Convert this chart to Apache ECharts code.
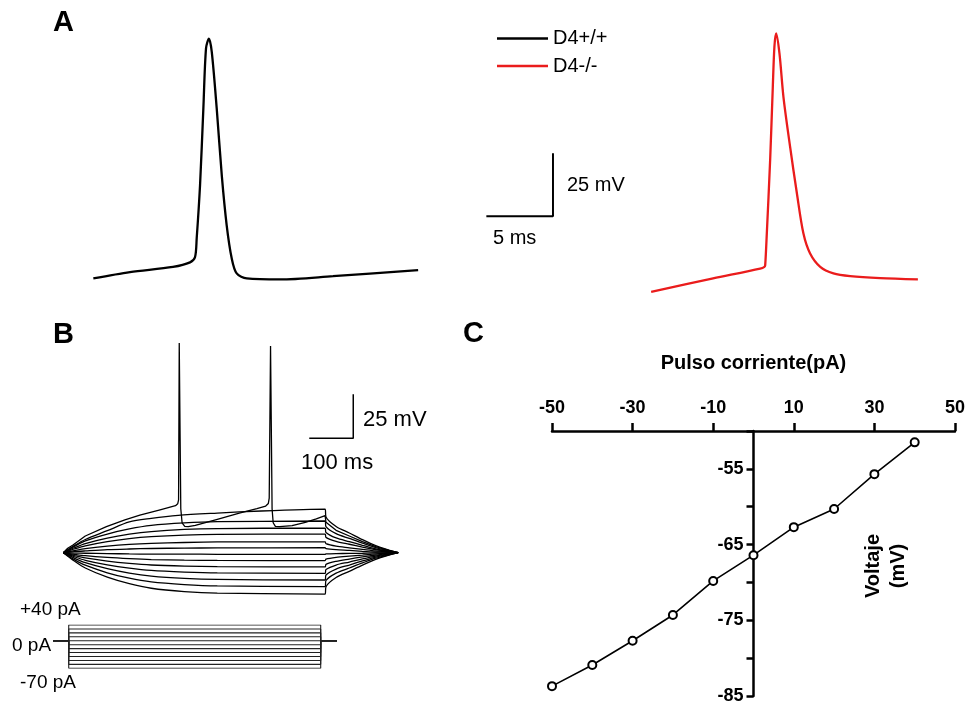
<!DOCTYPE html>
<html><head><meta charset="utf-8">
<script src="https://cdn.jsdelivr.net/npm/echarts@6/dist/echarts.min.js"></script>
<style>html,body{margin:0;padding:0;background:#fff}#c{width:968px;height:707px}</style>
</head><body><div id="c"></div>
<script>
// ---------- Panel A: single action potentials (time ms, voltage mV) ----------
const apWT_t = [1.0,3.75,6.98,8.26,8.63,8.76,9.01,9.26,9.46,9.68,9.89,10.26,10.64,11.01,11.39,11.76,12.52,15.02,18.99,25.38];
const apWT_v = [-70.1,-67.6,-65.5,-63.7,-61.7,-54.1,-33.1,-2.5,21.3,25.1,19.8,-2.5,-29.1,-49.0,-62.2,-68.1,-70.1,-70.5,-69.2,-66.8];
const apKO_t = [42.87,47.52,51.05,51.37,51.43,51.55,51.80,52.0,52.12,52.25,52.5,52.80,53.30,53.81,54.30,54.80,55.56,56.55,57.81,60.06,62.89];
const apKO_v = [-75.4,-70.1,-66.2,-65.5,-64.8,-52.3,-23.2,5.9,21.8,27.1,19.2,1.9,-17.9,-36.4,-52.3,-60.2,-65.5,-68.1,-69.2,-70.0,-70.5];
const seriesNames = ['D4+/+','D4-/-'];
const scaleA_t = [30.5,35.5,35.5];      // 5 ms
const scaleA_v = [-45.4,-45.4,-20.4];   // 25 mV

// ---------- Panel B: current-clamp family (time ms, voltage mV) ----------
const spikeT = [0,10,22,50,98,140,174,220,255,260,262,263.5,265.5,267,270,276,284,300,350,400,440,460,466,468,471,473,474.5,477,482,492,520,550,575,595,597,620,650,680,710,740,761];
const spikeV = [-65,-62.5,-60.6,-55.5,-50.2,-46.3,-43.6,-40.6,-38.3,-37.2,-35,54.2,0,-40,-48,-50,-50.2,-49.5,-46,-42.5,-40,-38.5,-37,-34,52.5,0,-40,-48,-50,-50.2,-49.6,-47.8,-45.8,-43.9,-47.7,-52.3,-55.5,-58.7,-61.6,-63.7,-65];
const trace2T = [0,25,50,100,150,200,261,350,450,595,597,620,650,680,710,740,761];
const trace2V = [-65,-61,-57.5,-52.5,-47.5,-45.5,-43.8,-42.5,-41.3,-40.2,-44.7,-50.1,-53.8,-57.6,-61.0,-63.5,-65];
const familyT = [0,25,50,100,150,200,275,350,595,597,620,650,680,710,740,761];
const familyV = [
  [-65,-61.4,-58.3,-54.4,-51.5,-49.5,-48.1,-47.4,-47.0,-50.2,-54.2,-56.9,-59.6,-62.1,-63.9,-65],
  [-65,-62.2,-59.8,-56.7,-54.5,-53.0,-51.8,-51.3,-51.0,-53.5,-56.6,-58.7,-60.8,-62.8,-64.2,-65],
  [-65,-62.9,-61.1,-58.7,-57.0,-55.9,-55.0,-54.6,-54.4,-56.3,-58.6,-60.2,-61.8,-63.3,-64.4,-65],
  [-65,-63.8,-62.7,-61.3,-60.3,-59.7,-59.2,-58.9,-58.8,-59.9,-61.3,-62.2,-63.1,-64.0,-64.6,-65],
  [-65,-64.4,-64.0,-63.3,-62.9,-62.6,-62.4,-62.3,-62.2,-62.7,-63.3,-63.7,-64.2,-64.6,-64.8,-65],
  [-65,-65.2,-65.3,-65.5,-65.7,-65.8,-65.8,-65.9,-65.9,-65.7,-65.5,-65.4,-65.3,-65.1,-65.1,-65],
  [-65,-65.9,-66.7,-67.7,-68.4,-68.9,-69.2,-69.4,-69.5,-68.7,-67.7,-67.0,-66.4,-65.7,-65.3,-65],
  [-65,-66.6,-68.0,-69.8,-71.1,-72.0,-72.6,-72.9,-73.1,-71.6,-69.9,-68.6,-67.4,-66.3,-65.5,-65],
  [-65,-67.3,-69.3,-71.9,-73.8,-75.1,-76.0,-76.5,-76.7,-74.6,-72.0,-70.3,-68.5,-66.9,-65.7,-65],
  [-65,-68.1,-70.7,-74.1,-76.6,-78.3,-79.6,-80.2,-80.5,-77.7,-74.3,-72.0,-69.7,-67.5,-65.9,-65],
  [-65,-68.9,-72.1,-76.4,-79.5,-81.6,-83.1,-83.9,-84.3,-80.8,-76.6,-73.7,-70.8,-68.1,-66.2,-65],
  [-65,-69.7,-73.7,-78.9,-82.6,-85.2,-87.1,-88.0,-88.5,-84.3,-79.1,-75.6,-72.1,-68.8,-66.4,-65]
];
const scaleB_t = [559,659,659];   // 100 ms
const scaleB_v = [0,0,25];        // 25 mV
// stimulus protocol (pA)
const stimLevels = [40,30,20,10,0,-10,-20,-30,-40,-50,-60,-70];
const stimOn = 12.3, stimOff = 585, holdStart = -23.4, holdEnd = 622;

// ---------- Panel C: I-V relation ----------
const ivCurrent = [-50,-40,-30,-20,-10,0,10,20,30,40];
const ivVoltage = [-83.7,-80.9,-77.7,-74.3,-69.8,-66.4,-62.7,-60.3,-55.7,-51.5];
const ivYLabels = [-85,-75,-65,-55];

const FONT = "'Liberation Sans', Arial, Helvetica, sans-serif";
const zip = (a,b) => a.map((v,i)=>[v,b[i]]);
const lineSeries = (name, data, xi, color, width, extra) => Object.assign({
  name, type:'line', xAxisIndex:xi, yAxisIndex:xi, data, symbol:'none',
  lineStyle:{color, width}, itemStyle:{color}, silent:true, z:2
}, extra||{});

const series = [];
series.push(lineSeries(seriesNames[0], zip(apWT_t, apWT_v), 0, '#000', 2.3, {smooth:0.3}));
series.push(lineSeries(seriesNames[1], zip(apKO_t, apKO_v), 0, '#ea1c1c', 2.3, {smooth:0.3}));
series.push(lineSeries('scaleA', zip(scaleA_t, scaleA_v), 0, '#000', 2));
series.push(lineSeries('spiking', zip(spikeT, spikeV), 1, '#000', 1.3));
series.push(lineSeries('trace2', zip(trace2T, trace2V), 1, '#000', 1.3, {smooth:0.3}));
familyV.forEach((v,i)=>series.push(lineSeries('fam'+i, zip(familyT, v), 1, '#000', 1.3, {smooth:0.3})));
series.push(lineSeries('scaleB', zip(scaleB_t, scaleB_v), 1, '#000', 1.5));
stimLevels.forEach((L,i)=>series.push(lineSeries('stim'+i,
  [[holdStart,0],[stimOn,0],[stimOn,L],[stimOff,L],[stimOff,0],[holdEnd,0]], 2, '#222', 1.1)));
series.push({
  name:'IV', type:'line', xAxisIndex:3, yAxisIndex:3, data:zip(ivCurrent, ivVoltage),
  symbol:'emptyCircle', symbolSize:8, lineStyle:{color:'#000', width:1.6},
  itemStyle:{color:'#000', borderWidth:1.5}, z:3
});

const txt = (text, x, y, size, weight, align) => ({
  type:'text', x, y, silent:true,
  style:{text, fontSize:size, fontWeight:weight||'normal', fontFamily:FONT, fill:'#000',
         align:align||'left', verticalAlign:'middle'}
});

// grid C geometry; y axis is drawn at current = 0
const gridC = {left:552, top:431, width:403, height:265};
const xMinC = -50, xMaxC = 50;
const yAxisShift = -gridC.width * (0 - xMinC) / (xMaxC - xMinC);

const option = {
  animation:false,
  backgroundColor:'#fff',
  grid:[
    {left:80, top:1, width:866, height:302.4},
    {left:41.3, top:332.7, width:374, height:299.2},
    {left:41.3, top:625, width:374, height:43.3},
    gridC
  ],
  xAxis:[
    {gridIndex:0, type:'value', min:0, max:65, show:false},
    {gridIndex:1, type:'value', min:-50, max:800, show:false},
    {gridIndex:2, type:'value', min:-50, max:800, show:false},
    {gridIndex:3, type:'value', min:xMinC, max:xMaxC, interval:20, position:'top',
     axisLine:{onZero:false, lineStyle:{color:'#000', width:2.5}},
     axisTick:{show:true, length:8, inside:false, lineStyle:{color:'#000', width:2.5}},
     axisLabel:{margin:14, fontSize:18, fontWeight:'bold', color:'#000', fontFamily:FONT, showMinLabel:true, showMaxLabel:true},
     splitLine:{show:false},
     name:'Pulso corriente(pA)', nameLocation:'middle', nameGap:58,
     nameTextStyle:{fontSize:20, fontWeight:'bold', color:'#000', fontFamily:FONT}}
  ],
  yAxis:[
    {gridIndex:0, type:'value', min:-80, max:40, show:false},
    {gridIndex:1, type:'value', min:-110, max:60, show:false},
    {gridIndex:2, type:'value', min:-70, max:40, show:false},
    {gridIndex:3, type:'value', min:-85, max:-50, interval:5, position:'left', offset:yAxisShift,
     axisLine:{onZero:false, lineStyle:{color:'#000', width:2.5}},
     axisTick:{show:true, length:7, lineStyle:{color:'#000', width:2.5}},
     axisLabel:{margin:10, fontSize:18, fontWeight:'bold', color:'#000', fontFamily:FONT,
       formatter:(v)=> ivYLabels.includes(v) ? String(v) : ''},
     splitLine:{show:false}}
  ],
  legend:{
    data:seriesNames, orient:'vertical', left:492, top:23.5, icon:'rect',
    itemWidth:51, itemHeight:2.5, itemGap:7.5, selectedMode:false,
    textStyle:{fontSize:20, fontFamily:FONT, color:'#000', lineHeight:20}
  },
  graphic:[
    txt('A', 53, 22.5, 29, 'bold'),
    txt('B', 53, 335, 29, 'bold'),
    txt('C', 463, 334, 29, 'bold'),
    txt('25 mV', 567, 185, 20),
    txt('5 ms', 493, 238, 20),
    txt('25 mV', 363, 420, 22),
    txt('100 ms', 301, 463, 22),
    txt('+40 pA', 20, 610, 19),
    txt('0 pA', 12, 646, 19),
    txt('-70 pA', 20, 683, 19),
    {type:'text', x:885.5, y:566, rotation:Math.PI/2, silent:true,
     style:{text:'Voltaje\n(mV)', fontSize:20, fontWeight:'bold', fontFamily:FONT, fill:'#000',
            align:'center', verticalAlign:'middle', lineHeight:25}}
  ],
  series
};
const chart = echarts.init(document.getElementById('c'), null, {renderer:'canvas'});
chart.setOption(option);
</script></body></html>
